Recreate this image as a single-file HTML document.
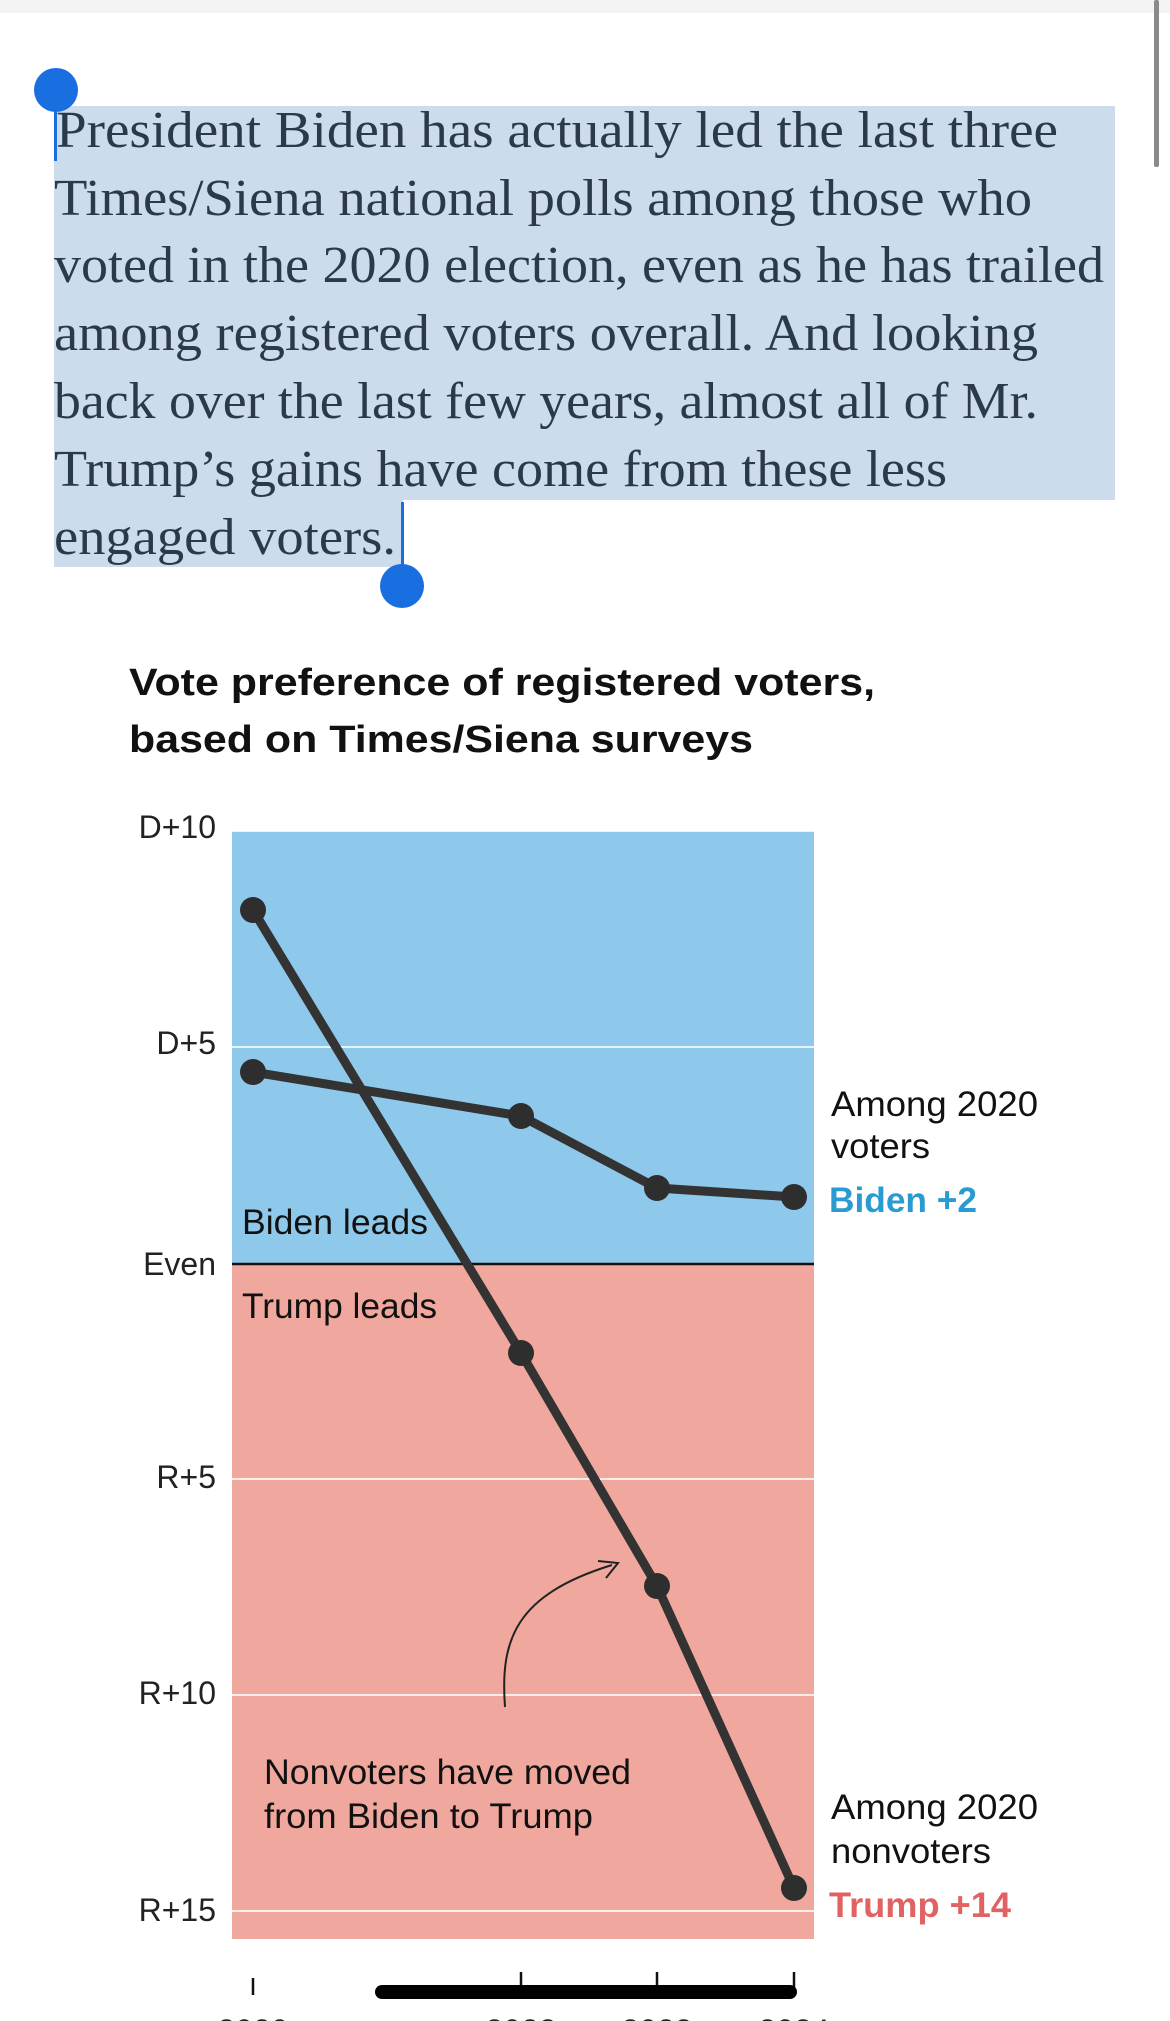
<!DOCTYPE html>
<html><head><meta charset="utf-8"><style>
html,body{margin:0;padding:0;background:#fff;width:1170px;height:2021px;overflow:hidden}
svg{display:block}
.s{font-family:"Liberation Serif",serif;font-size:52px;fill:#2b3a4a}
.t{font-family:"Liberation Sans",sans-serif;font-size:38px;font-weight:bold;fill:#111}
.a{font-family:"Liberation Sans",sans-serif;font-size:32px;fill:#222}
.l{font-family:"Liberation Sans",sans-serif;font-size:35px;fill:#111}
</style></head><body>
<svg width="1170" height="2021" viewBox="0 0 1170 2021" xmlns="http://www.w3.org/2000/svg">
<rect x="0" y="0" width="1170" height="13" fill="#f4f4f4"/>
<rect x="1154" y="0" width="5" height="167" rx="2" fill="#8a8a8a"/>
<rect x="54" y="106" width="1061" height="394" fill="#cddcec"/>
<rect x="54" y="500" width="349" height="67" fill="#cddcec"/>
<g class="s">
<text x="56" y="147" textLength="1002" lengthAdjust="spacingAndGlyphs">President Biden has actually led the last three</text>
<text x="54" y="215" textLength="978" lengthAdjust="spacingAndGlyphs">Times/Siena national polls among those who</text>
<text x="54" y="282" textLength="1050" lengthAdjust="spacingAndGlyphs">voted in the 2020 election, even as he has trailed</text>
<text x="54" y="350" textLength="984" lengthAdjust="spacingAndGlyphs">among registered voters overall. And looking</text>
<text x="54" y="418" textLength="984" lengthAdjust="spacingAndGlyphs">back over the last few years, almost all of Mr.</text>
<text x="54" y="486" textLength="893" lengthAdjust="spacingAndGlyphs">Trump’s gains have come from these less</text>
<text x="54" y="554" textLength="342" lengthAdjust="spacingAndGlyphs">engaged voters.</text>
</g>
<rect x="54" y="93" width="3" height="68" fill="#1a6fe0"/>
<circle cx="56" cy="90" r="22" fill="#1a6fe0"/>
<rect x="401" y="502" width="3" height="66" fill="#1a6fe0"/>
<circle cx="402" cy="586" r="22" fill="#1a6fe0"/>
<text class="t" x="129" y="695" textLength="746" lengthAdjust="spacingAndGlyphs">Vote preference of registered voters,</text>
<text class="t" x="129" y="752" textLength="624" lengthAdjust="spacingAndGlyphs">based on Times/Siena surveys</text>
<rect x="232" y="831" width="582" height="433" fill="#8ec9eb"/>
<rect x="232" y="1264" width="582" height="675" fill="#f0a79d"/>
<g stroke="#fff" stroke-width="2" opacity="0.8">
<line x1="232" y1="831" x2="814" y2="831"/>
<line x1="232" y1="1047" x2="814" y2="1047"/>
<line x1="232" y1="1479" x2="814" y2="1479"/>
<line x1="232" y1="1695" x2="814" y2="1695"/>
<line x1="232" y1="1911" x2="814" y2="1911"/>
</g>
<line x1="232" y1="1264" x2="814" y2="1264" stroke="#111" stroke-width="2.5"/>
<g class="a" text-anchor="end">
<text x="216" y="838">D+10</text>
<text x="216" y="1054">D+5</text>
<text x="216" y="1275">Even</text>
<text x="216" y="1488">R+5</text>
<text x="216" y="1704">R+10</text>
<text x="216" y="1921">R+15</text>
</g>
<text class="l" x="242" y="1234" textLength="186" lengthAdjust="spacingAndGlyphs">Biden leads</text>
<text class="l" x="242" y="1318" textLength="195" lengthAdjust="spacingAndGlyphs">Trump leads</text>
<text class="l" x="264" y="1784" textLength="367" lengthAdjust="spacingAndGlyphs">Nonvoters have moved</text>
<text class="l" x="264" y="1828" textLength="329" lengthAdjust="spacingAndGlyphs">from Biden to Trump</text>
<path d="M505,1707 C500,1640 515,1595 612,1565" fill="none" stroke="#222" stroke-width="2"/>
<path d="M598,1561 L618,1563 L606,1578" fill="none" stroke="#222" stroke-width="2"/>
<g fill="none" stroke="#333" stroke-width="9" stroke-linejoin="round">
<polyline points="253,1072 521,1116 657,1188 794,1197"/>
<polyline points="253,910 521,1353 657,1586 794,1888"/>
</g>
<g fill="#2e2e2e">
<circle cx="253" cy="1072" r="13"/><circle cx="521" cy="1116" r="13"/><circle cx="657" cy="1188" r="13"/><circle cx="794" cy="1197" r="13"/>
<circle cx="253" cy="910" r="13"/><circle cx="521" cy="1353" r="13"/><circle cx="657" cy="1586" r="13"/><circle cx="794" cy="1888" r="13"/>
</g>
<text class="l" x="831" y="1116" textLength="207" lengthAdjust="spacingAndGlyphs">Among 2020</text>
<text class="l" x="831" y="1158" textLength="99" lengthAdjust="spacingAndGlyphs">voters</text>
<text class="l" x="829" y="1212" textLength="148" lengthAdjust="spacingAndGlyphs" style="font-weight:bold;fill:#2a9bd0">Biden +2</text>
<text class="l" x="831" y="1819" textLength="207" lengthAdjust="spacingAndGlyphs">Among 2020</text>
<text class="l" x="831" y="1863" textLength="160" lengthAdjust="spacingAndGlyphs">nonvoters</text>
<text class="l" x="829" y="1917" textLength="182" lengthAdjust="spacingAndGlyphs" style="font-weight:bold;fill:#e06262">Trump +14</text>
<g stroke="#111" stroke-width="2.5">
<line x1="253" y1="1978" x2="253" y2="1995"/>
<line x1="521" y1="1972" x2="521" y2="1995"/>
<line x1="657" y1="1972" x2="657" y2="1995"/>
<line x1="794" y1="1972" x2="794" y2="1995"/>
</g>
<line x1="382" y1="1992" x2="790" y2="1992" stroke="#000" stroke-width="14" stroke-linecap="round"/>
<g class="a" text-anchor="middle">
<text x="253" y="2042">2020</text>
<text x="521" y="2042">2022</text>
<text x="657" y="2042">2023</text>
<text x="794" y="2042">2024</text>
</g>
</svg>
</body></html>
